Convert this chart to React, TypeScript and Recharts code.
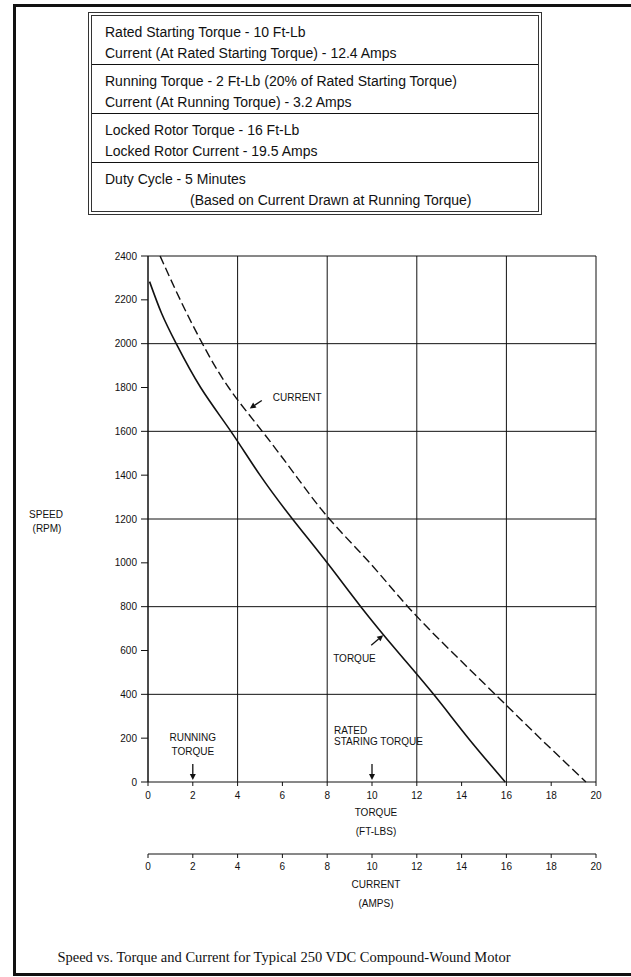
import { LineChart, Line, XAxis, YAxis, ReferenceLine, ReferenceDot } from 'recharts'

// speed vs torque (solid) and speed vs current (dashed)
const torqueFtLb = [0.07, 0.6, 1.26, 2.35, 3.7, 5.0, 6.45, 8.0, 9.5, 11.1, 12.75, 14.3, 15.95]
const torqueSpeedRpm = [2283, 2140, 2000, 1800, 1600, 1400, 1200, 1000, 800, 600, 400, 200, 0]

const currentAmps = [0.54, 1.44, 2.43, 3.6, 5.1, 6.58, 8.1, 9.9, 11.6, 13.5, 15.5, 17.5, 19.55]
const currentSpeedRpm = [2400, 2200, 2000, 1800, 1600, 1400, 1200, 1000, 800, 600, 400, 200, 0]

const xTicks = [0, 2, 4, 6, 8, 10, 12, 14, 16, 18, 20]
const xGridLines = [0, 4, 8, 12, 16, 20]
const speedTicks = [0, 200, 400, 600, 800, 1000, 1200, 1400, 1600, 1800, 2000, 2200, 2400]
const speedGridLines = [0, 400, 800, 1200, 1600, 2000, 2400]

const specRows = [
  ['Rated Starting Torque - 10 Ft-Lb', 'Current (At Rated Starting Torque) - 12.4 Amps'],
  ['Running Torque - 2 Ft-Lb (20% of Rated Starting Torque)', 'Current (At Running Torque) - 3.2 Amps'],
  ['Locked Rotor Torque - 16 Ft-Lb', 'Locked Rotor Current - 19.5 Amps'],
  ['Duty Cycle - 5 Minutes', '(Based on Current Drawn at Running Torque)'],
]
const caption = 'Speed vs. Torque and Current for Typical 250 VDC Compound-Wound Motor'

const torqueData = torqueFtLb.map((x, i) => ({ x, speed: torqueSpeedRpm[i] }))
const currentData = currentAmps.map((x, i) => ({ x, speed: currentSpeedRpm[i] }))

const INK = '#111'
const SANS = '"Liberation Sans", Arial, Helvetica, sans-serif'
const tickStyle = { fill: INK, fontSize: 10, fontFamily: SANS }

// axis ids: torque sits next to the plot, current below it
const TORQUE_AXIS = 'ft'
const CURRENT_AXIS = 'i'

function AxisTitle({ viewBox, lines }: any) {
  const cx = viewBox.x + viewBox.width / 2 + 4
  return (
    <text textAnchor="middle" fontFamily={SANS} fontSize={10} fill={INK}>
      <tspan x={cx} y={viewBox.y + 33.5}>{lines[0]}</tspan>
      <tspan x={cx} y={viewBox.y + 52.5}>{lines[1]}</tspan>
    </text>
  )
}

function SpeedTitle({ viewBox }: any) {
  const cy = viewBox.y + viewBox.height / 2
  return (
    <text textAnchor="middle" fontFamily={SANS} fontSize={10} fill={INK}>
      <tspan x={46} y={cy - 1.5}>SPEED</tspan>
      <tspan x={47} y={cy + 12.5}>(RPM)</tspan>
    </text>
  )
}

function Arrow({ x1, y1, x2, y2 }: any) {
  const a = Math.atan2(y2 - y1, x2 - x1)
  const h = 6
  const w = 3
  const bx = x2 - h * Math.cos(a)
  const by = y2 - h * Math.sin(a)
  const pts = `${x2},${y2} ${bx + w * Math.sin(a)},${by - w * Math.cos(a)} ${bx - w * Math.sin(a)},${by + w * Math.cos(a)}`
  return (
    <g>
      <line x1={x1} y1={y1} x2={bx} y2={by} stroke={INK} strokeWidth={1.3} />
      <polygon points={pts} fill={INK} />
    </g>
  )
}

const noteText = { fontFamily: SANS, fontSize: 10, fill: INK }

function CurrentNote({ cx, cy }: any) {
  return (
    <g>
      <Arrow x1={cx + 13} y1={cy - 9} x2={cx + 1} y2={cy - 1} />
      <text x={cx + 24} y={cy - 8.5} {...noteText}>CURRENT</text>
    </g>
  )
}

function TorqueNote({ cx, cy }: any) {
  return (
    <g>
      <Arrow x1={cx - 12} y1={cy + 10} x2={cx} y2={cy} />
      <text x={cx - 50} y={cy + 26.5} {...noteText}>TORQUE</text>
    </g>
  )
}

function RunningNote({ cx, cy }: any) {
  return (
    <g>
      <Arrow x1={cx} y1={cy - 18} x2={cx} y2={cy - 2} />
      <text textAnchor="middle" {...noteText}>
        <tspan x={cx} y={cy - 41.5}>RUNNING</tspan>
        <tspan x={cx} y={cy - 27.5}>TORQUE</tspan>
      </text>
    </g>
  )
}

function RatedNote({ cx, cy }: any) {
  return (
    <g>
      <Arrow x1={cx} y1={cy - 18} x2={cx} y2={cy - 2} />
      <text {...noteText}>
        <tspan x={cx - 38} y={cy - 48.5}>RATED</tspan>
        <tspan x={cx - 38} y={cy - 37.5}>STARING TORQUE</tspan>
      </text>
    </g>
  )
}

export default function App() {
  return (
    <div style={{ position: 'absolute', left: 0, top: 0, width: 631, height: 977, background: '#fff' }}>
      {/* page frame */}
      <div
        style={{
          position: 'absolute', left: 13, top: 4, width: 618, height: 972, boxSizing: 'border-box',
          borderTop: `3px solid ${INK}`, borderLeft: `3px solid ${INK}`, borderBottom: `3px solid ${INK}`,
        }}
      />

      {/* spec box */}
      <div
        style={{
          position: 'absolute', left: 88, top: 12, width: 454, height: 203, boxSizing: 'border-box',
          border: `4px double #333`, display: 'flex', flexDirection: 'column',
          fontFamily: SANS, fontSize: 14, color: INK, lineHeight: '21px',
        }}
      >
        {specRows.map((row, i) => (
          <div
            key={i}
            style={{
              flex: 1, padding: '6px 0 0 13px',
              borderBottom: i < specRows.length - 1 ? `1px solid ${INK}` : 'none',
            }}
          >
            <div>{row[0]}</div>
            <div style={{ paddingLeft: i === specRows.length - 1 ? 85 : 0 }}>{row[1]}</div>
          </div>
        ))}
      </div>

      <div style={{ position: 'absolute', left: 0, top: 240 }}>
        <LineChart width={631} height={674} margin={{ top: 16, right: 35, left: 0, bottom: 0 }}>
          <XAxis
            xAxisId={CURRENT_AXIS} type="number" dataKey="x" domain={[0, 20]} ticks={xTicks}
            allowDataOverflow height={60} tickSize={4} tickMargin={5}
            axisLine={{ stroke: INK }} tickLine={{ stroke: INK }} tick={tickStyle}
            label={<AxisTitle lines={['CURRENT', '(AMPS)']} />}
          />
          <XAxis
            xAxisId={TORQUE_AXIS} type="number" dataKey="x" domain={[0, 20]} ticks={xTicks}
            allowDataOverflow height={72} tickSize={4} tickMargin={6}
            axisLine={false} tickLine={{ stroke: INK }} tick={tickStyle}
            label={<AxisTitle lines={['TORQUE', '(FT-LBS)']} />}
          />
          <YAxis
            type="number" dataKey="speed" domain={[0, 2400]} ticks={speedTicks} width={148}
            tickSize={7} tickMargin={4} axisLine={{ stroke: INK }} tickLine={{ stroke: INK }} tick={tickStyle}
            label={<SpeedTitle />}
          />

          {speedGridLines.map((v) => (
            <ReferenceLine key={`h${v}`} xAxisId={TORQUE_AXIS} y={v} stroke={INK} strokeWidth={1} />
          ))}
          {xGridLines.map((v) => (
            <ReferenceLine key={`v${v}`} xAxisId={TORQUE_AXIS} x={v} stroke={INK} strokeWidth={1} />
          ))}

          <Line
            xAxisId={TORQUE_AXIS} data={torqueData} dataKey="speed" type="natural"
            stroke={INK} strokeWidth={1.6} dot={false} isAnimationActive={false}
          />
          <Line
            xAxisId={CURRENT_AXIS} data={currentData} dataKey="speed" type="natural"
            stroke={INK} strokeWidth={1.4} strokeDasharray="9 4" dot={false} isAnimationActive={false}
          />

          <ReferenceDot xAxisId={CURRENT_AXIS} x={4.5} y={1700} shape={CurrentNote} />
          <ReferenceDot xAxisId={TORQUE_AXIS} x={10.5} y={670} shape={TorqueNote} />
          <ReferenceDot xAxisId={TORQUE_AXIS} x={2} y={0} shape={RunningNote} />
          <ReferenceDot xAxisId={TORQUE_AXIS} x={10} y={0} shape={RatedNote} />
        </LineChart>
      </div>

      <div
        style={{
          position: 'absolute', left: 14, width: 540, top: 948, textAlign: 'center',
          fontFamily: '"Liberation Serif", "Times New Roman", serif', fontSize: 14.5, lineHeight: '18px', color: INK,
        }}
      >
        {caption}
      </div>
    </div>
  )
}
